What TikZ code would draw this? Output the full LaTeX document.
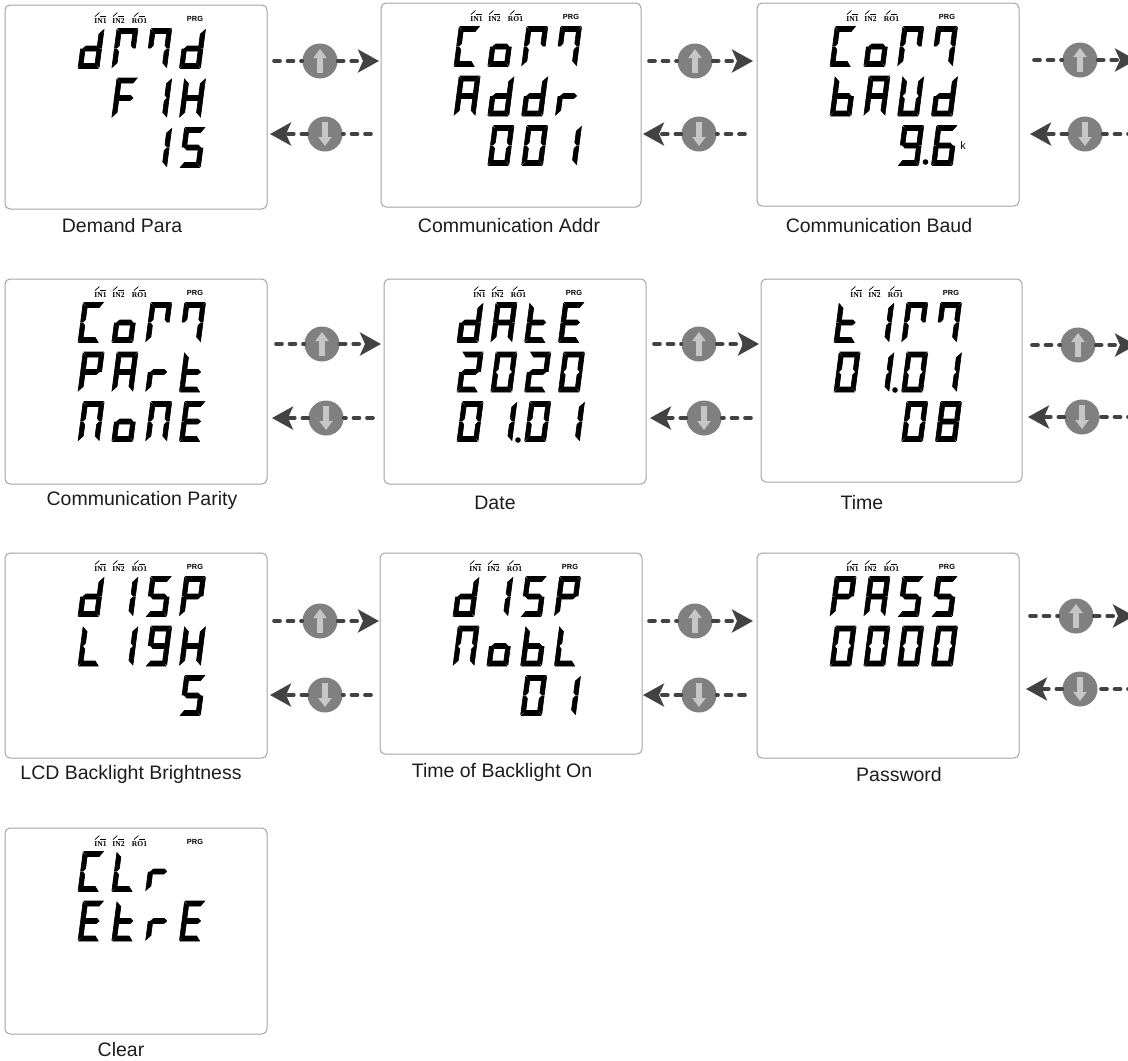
\documentclass[tikz,border=0pt]{standalone}
\usepackage{fontspec}
\usetikzlibrary{arrows.meta,calc}
\setmainfont{Liberation Sans}
\newfontfamily\iconfont{Liberation Serif}
\definecolor{frameGray}{HTML}{A3A3A3}
\definecolor{btnGray}{HTML}{808080}
\definecolor{btnLight}{HTML}{C6C6C6}
\definecolor{dashDark}{HTML}{424242}
\definecolor{capText}{HTML}{1C1C1C}
\tikzset{
  frame/.style={draw=frameGray,line width=1pt,rounded corners=5pt,inner sep=0pt},
  caption/.style={text=capText,inner sep=0pt,anchor=base,font=\fontsize{19.5}{22}\selectfont},
  btn/.style={circle,fill=btnGray,minimum size=35pt,inner sep=0pt},
  dashline/.style={dashDark,line width=3.6pt,line cap=round,dash pattern=on 6pt off 7.5pt},
  tipline/.style={dashline,-{Stealth[length=21pt,width=23pt,inset=5pt,sep=0pt]}},
  btnarrow/.style={btnLight,line width=6pt,-{Triangle[length=9pt,width=13pt]}},
  icontext/.style={inner sep=0pt,font=\iconfont\bfseries\fontsize{7.6}{8}\selectfont},
  prgtext/.style={inner sep=0pt,font=\bfseries\fontsize{7.4}{8}\selectfont},
}
% segments of one digit, local box 21 x 40
\def\sega{\filldraw (0.8,0)--(20.2,0)--(16.6,5)--(4.4,5)--cycle;}
\def\segb{\filldraw (21,1)--(16.4,5.6)--(16.4,17)--(18.6,19.5)--(21,19.5)--cycle;}
\def\segc{\filldraw (21,39)--(16.4,34.4)--(16.4,23)--(18.6,20.5)--(21,20.5)--cycle;}
\def\segd{\filldraw (0.8,40)--(20.2,40)--(16.6,35)--(4.4,35)--cycle;}
\def\sege{\filldraw (0,39)--(4.6,34.4)--(4.6,23)--(2.4,20.5)--(0,20.5)--cycle;}
\def\segf{\filldraw (0,1)--(4.6,5.6)--(4.6,17)--(2.4,19.5)--(0,19.5)--cycle;}
\def\segg{\filldraw (2.4,20)--(5,17.5)--(16,17.5)--(18.6,20)--(16,22.5)--(5,22.5)--cycle;}
\def\segz{}
% glyphs
\expandafter\def\csname gl0\endcsname{a,b,c,d,e,f}
\expandafter\def\csname gl1\endcsname{b,c}
\expandafter\def\csname gl2\endcsname{a,b,d,e,g}
\expandafter\def\csname gl5\endcsname{a,c,d,f,g}
\expandafter\def\csname gl6\endcsname{a,c,d,e,f,g}
\expandafter\def\csname gl8\endcsname{a,b,c,d,e,f,g}
\expandafter\def\csname gl9\endcsname{a,b,c,d,f,g}
\expandafter\def\csname glA\endcsname{a,b,c,e,f,g}
\expandafter\def\csname glb\endcsname{c,d,e,f,g}
\expandafter\def\csname glC\endcsname{a,d,e,f}
\expandafter\def\csname gld\endcsname{b,c,d,e,g}
\expandafter\def\csname glE\endcsname{a,d,e,f,g}
\expandafter\def\csname glF\endcsname{a,e,f,g}
\expandafter\def\csname glH\endcsname{b,c,e,f,g}
\expandafter\def\csname glL\endcsname{d,e,f}
\expandafter\def\csname glm\endcsname{a,b,e,f}
\expandafter\def\csname gln\endcsname{a,b,c,f}
\expandafter\def\csname glN\endcsname{a,b,c,e,f}
\expandafter\def\csname glo\endcsname{c,d,e,g}
\expandafter\def\csname glP\endcsname{a,b,e,f,g}
\expandafter\def\csname glr\endcsname{e,g}
\expandafter\def\csname glt\endcsname{d,e,f,g}
\expandafter\def\csname glU\endcsname{b,c,d,e,f}
\expandafter\def\csname glz\endcsname{z}
% one row of four digits: x, y, glyphs
\newcommand{\lcdrow}[3]{
  \foreach \gl [count=\gi] in {#3}{
    \begin{scope}[shift={({#1+73+33.8*(\gi-1)+5.2},#2)},xslant=0.13,line width=.6pt]
      \edef\seglist{\csname gl\gl\endcsname}
      \foreach \sg in \seglist {\csname seg\sg\endcsname}
    \end{scope}
  }
}
% display content: name, x, y of frame, three rows
\newcommand{\lcdpanel}[6]{
  \foreach \ix/\il in {95.5/IN1,113.5/IN2,134.5/RO1}{
    \node[icontext] (#1-\il) at ({#2+\ix},{#3+16}) {\il};
    \draw[line width=.7pt] ({#2+\ix-5.5},{#3+11.5}) -- ({#2+\ix-1},{#3+7.5});
    \draw[line width=.9pt] ({#2+\ix-0.5},{#3+11}) -- ({#2+\ix+5.5},{#3+11});
  }
  \node[prgtext] (#1-PRG) at ({#2+190},{#3+14}) {PRG};
  \lcdrow{#2}{#3+23.5}{#4}
  \lcdrow{#2}{#3+73}{#5}
  \lcdrow{#2}{#3+122.5}{#6}
}
\begin{document}
\begin{tikzpicture}[x=1pt,y=-1pt]
\useasboundingbox (0,0) rectangle (1128,1061);
% frames and captions
\foreach \nm/\fx/\fy/\fw/\fh/\cx/\cy/\capt in {
  dmd/5/5/262/204/122/232/Demand Para,
  addr/381/3/260/204/509/232/Communication Addr,
  baud/757/3/262/203/879/232/Communication Baud,
  part/5/279/262/205/142/505/Communication Parity,
  date/384/279/262/205/495/509/Date,
  time/761/279/261/203/862/509/Time,
  lite/5/553/262/205/131/779/LCD Backlight Brightness,
  mobl/380/553/262/201/502/777/Time of Backlight On,
  pass/757/553/262/205/899/781/Password,
  clr/5/828/262/206/121/1056/Clear}{
  \node[frame,minimum width=\fw pt,minimum height=\fh pt] (p\nm) at ({\fx+\fw/2},{\fy+\fh/2}) {};
  \node[caption] (c\nm) at (\cx,\cy) {\capt};
}
% displays
\lcdpanel{dmd}{5}{5}{d,m,n,d}{z,F,1,H}{z,z,1,5}
\lcdpanel{addr}{381}{3}{C,o,m,n}{A,d,d,r}{z,0,0,1}
\lcdpanel{baud}{757}{3}{C,o,m,n}{b,A,U,d}{z,z,9,6}
\lcdpanel{part}{5}{279}{C,o,m,n}{P,A,r,t}{N,o,N,E}
\lcdpanel{date}{384}{279}{d,A,t,E}{2,0,2,0}{0,1,0,1}
\lcdpanel{time}{761}{279}{t,1,m,n}{0,1,0,1}{z,z,0,8}
\lcdpanel{lite}{5}{553}{d,1,5,P}{L,1,9,H}{z,z,z,5}
\lcdpanel{mobl}{380}{553}{d,1,5,P}{N,o,b,L}{z,z,0,1}
\lcdpanel{pass}{757}{553}{P,A,5,5}{0,0,0,0}{z,z,z,z}
\lcdpanel{clr}{5}{828}{C,L,r,z}{E,t,r,E}{z,z,z,z}
% decimal points and the k
\fill (925.5,162) circle (2.8);
\fill (518,440) circle (2.8);
\fill (895,390) circle (2.8);
\node[inner sep=0pt,font=\fontsize{11}{12}\selectfont] (kunit) at (963,146) {k};
% up buttons: start, button, tip, y
\foreach \nm/\sx/\bx/\ex/\yy in {
  a/274/320/379/61, b/649/695/753/61, c/1034/1080/1136/60,
  d/276/322/381/344, e/654/699/759/344, f/1032/1078/1136/345,
  g/274/320/379/621, h/649/695/753/621, i/1030/1076/1134/616}{
  \coordinate (us\nm) at (\sx,\yy);
  \coordinate (ue\nm) at (\ex,\yy);
  \node[btn] (u\nm) at (\bx,\yy) {};
  \draw[dashline] (us\nm) -- (u\nm);
  \draw[tipline] (u\nm) -- (ue\nm);
  \draw[btnarrow] ([yshift=-12pt]u\nm.center) -- ([yshift=12pt]u\nm.center);
}
% down buttons
\foreach \nm/\sx/\bx/\ex/\yy in {
  a/371/325/270/134, b/745/699/643/134, c/1134/1085/1030/134,
  d/373/326/272/418, e/751/704/650/418, f/1134/1082/1028/417,
  g/371/325/270/695, h/745/699/643/695, i/1134/1080/1026/689}{
  \coordinate (ds\nm) at (\sx,\yy);
  \coordinate (de\nm) at (\ex,\yy);
  \node[btn] (d\nm) at (\bx,\yy) {};
  \draw[dashline] (ds\nm) -- (d\nm);
  \draw[tipline] (d\nm) -- (de\nm);
  \draw[btnarrow] ([yshift=12pt]d\nm.center) -- ([yshift=-12pt]d\nm.center);
}
\end{tikzpicture}
\end{document}
